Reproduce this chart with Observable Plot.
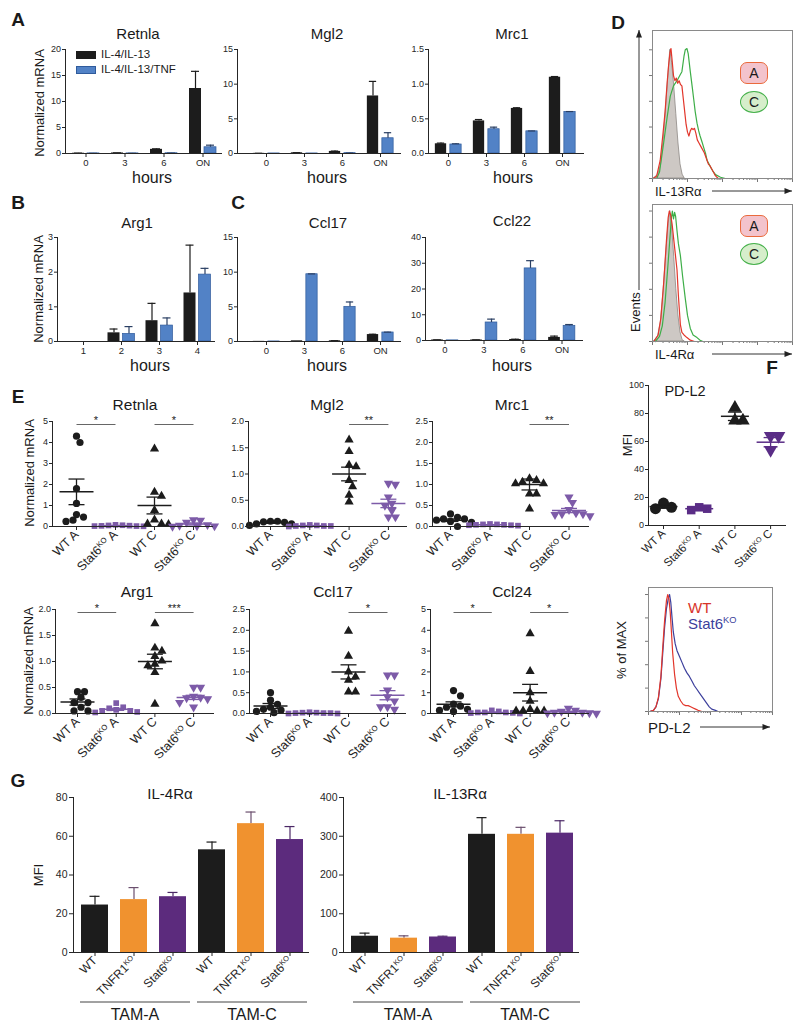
<!DOCTYPE html>
<html>
<head>
<meta charset="utf-8">
<script src="https://cdn.jsdelivr.net/npm/d3@7"></script>
<script src="https://cdn.jsdelivr.net/npm/@observablehq/plot@0.6"></script>
<style>
  html, body { margin: 0; padding: 0; background: #fff; }
  #fig { position: relative; width: 800px; height: 1028px; overflow: hidden; background: #fff;
         font-family: "Liberation Sans", Arial, Helvetica, sans-serif; color: #1a1a1a; }
  .t { position: absolute; white-space: nowrap; line-height: 1; }
  .t sup { font-size: 0.62em; vertical-align: 0.55em; line-height: 0; }
</style>
</head>
<body>
<div id="fig"></div>
<script>
// ====================== DATA ======================
// --- Panels A-C: qPCR time course, two treatments ---
const treatmentNames = ["IL-4/IL-13", "IL-4/IL-13/TNF"];
const hourLabels = ["0", "3", "6", "ON"];
const arg1HourLabels = ["1", "2", "3", "4"];

const retnlaIL4 = [0.05, 0.1, 0.8, 12.5];
const retnlaIL4Err = [0.02, 0.02, 0.1, 3.3];
const retnlaTNF = [0.02, 0.02, 0.05, 1.2];
const retnlaTNFErr = [0.01, 0.01, 0.02, 0.4];

const mgl2IL4 = [0.02, 0.1, 0.3, 8.3];
const mgl2IL4Err = [0.01, 0.02, 0.05, 2.1];
const mgl2TNF = [0.01, 0.01, 0.05, 2.2];
const mgl2TNFErr = [0, 0, 0.01, 0.8];

const mrc1IL4 = [0.14, 0.47, 0.65, 1.10];
const mrc1IL4Err = [0.01, 0.02, 0.01, 0.01];
const mrc1TNF = [0.13, 0.35, 0.32, 0.60];
const mrc1TNFErr = [0.01, 0.03, 0.005, 0.005];

const arg1IL4 = [0, 0.25, 0.6, 1.4];
const arg1IL4Err = [0, 0.11, 0.5, 1.38];
const arg1TNF = [0, 0.22, 0.46, 1.93];
const arg1TNFErr = [0, 0.21, 0.22, 0.18];

const ccl17IL4 = [0.02, 0.1, 0.1, 1.0];
const ccl17IL4Err = [0, 0, 0.02, 0.05];
const ccl17TNF = [0.01, 9.7, 5.0, 1.3];
const ccl17TNFErr = [0, 0.05, 0.7, 0.05];

const ccl22IL4 = [0.2, 0.2, 0.4, 1.2];
const ccl22IL4Err = [0.05, 0.05, 0.1, 0.5];
const ccl22TNF = [0.05, 7.0, 28.0, 5.7];
const ccl22TNFErr = [0, 1.3, 3.0, 0.5];

// --- Panel E: individual mice (WT A, Stat6KO A, WT C, Stat6KO C) ---
const eGroupNames = ["WT A", "Stat6KO A", "WT C", "Stat6KO C"];
const eRetnla = [[4.3, 4.0, 1.8, 1.1, 0.57, 0.45, 0.3, 0.24], [0.08, 0.06, 0.05, 0.04, 0.03, 0.02, 0.02, 0.01], [3.7, 1.64, 1.45, 0.77, 0.32, 0.13, 0.13, 0.1], [0.32, 0.29, 0.2, 0.08, 0.05, 0.03, 0.02, 0.0]];
const eRetnlaMean = [1.65, 0.04, 1.0, 0.12];
const eRetnlaSem = [0.61, 0.01, 0.4, 0.05];
const eMgl2 = [[0.1, 0.1, 0.09, 0.08, 0.05, 0.05, 0.02], [0.03, 0.02, 0.02, 0.01, 0.01, 0.01, 0.0], [1.65, 1.43, 1.17, 1.14, 0.88, 0.76, 0.6, 0.47], [0.82, 0.8, 0.56, 0.44, 0.4, 0.3, 0.18, 0.18]];
const eMgl2Mean = [0.07, 0.015, 1.0, 0.44];
const eMgl2Sem = [0.01, 0.004, 0.13, 0.08];
const eMrc1 = [[0.3, 0.22, 0.18, 0.18, 0.15, 0.12, 0.1, 0.0], [0.06, 0.05, 0.05, 0.04, 0.04, 0.03, 0.03, 0.02], [1.14, 1.1, 1.06, 1.02, 1.02, 0.78, 0.78, 0.42], [0.7, 0.57, 0.4, 0.32, 0.3, 0.3, 0.28, 0.25]];
const eMrc1Mean = [0.15, 0.04, 1.0, 0.38];
const eMrc1Sem = [0.03, 0.005, 0.13, 0.05];
const eArg1 = [[0.42, 0.42, 0.31, 0.21, 0.21, 0.12, 0.05, 0.05], [0.2, 0.12, 0.1, 0.07, 0.05, 0.05, 0.03, 0.02], [1.73, 1.26, 1.2, 1.1, 1.01, 0.95, 0.92, 0.79, 0.18], [0.5, 0.5, 0.33, 0.31, 0.3, 0.28, 0.21, 0.12]];
const eArg1Mean = [0.22, 0.08, 1.0, 0.31];
const eArg1Sem = [0.06, 0.02, 0.14, 0.04];
const eCcl17 = [[0.5, 0.32, 0.22, 0.15, 0.1, 0.08, 0.05, 0.02], [0.03, 0.02, 0.02, 0.01, 0.01, 0.0, 0.0, 0.01], [1.98, 1.38, 1.0, 0.88, 0.8, 0.52, 0.52], [0.92, 0.92, 0.56, 0.4, 0.3, 0.16, 0.16, 0.1]];
const eCcl17Mean = [0.18, 0.01, 1.0, 0.44];
const eCcl17Sem = [0.06, 0.005, 0.17, 0.11];
const eCcl24 = [[1.1, 0.85, 0.45, 0.35, 0.3, 0.2, 0.15, 0.1], [0.15, 0.1, 0.05, 0.05, 0.03, 0.02, 0.0, 0.05], [3.84, 2.03, 1.0, 0.6, 0.2, 0.13, 0.13, 0.13, 0.13], [0.25, 0.15, 0.1, 0.05, 0.05, 0.03, 0.02, 0.0]];
const eCcl24Mean = [0.44, 0.05, 1.0, 0.08];
const eCcl24Sem = [0.12, 0.02, 0.4, 0.03];
// significance brackets: [from group, to group, label]
const sigRetnla = [[0, 1, "*"], [2, 3, "*"]];
const sigMgl2 = [[2, 3, "**"]];
const sigMrc1 = [[2, 3, "**"]];
const sigArg1 = [[0, 1, "*"], [2, 3, "***"]];
const sigCcl17 = [[2, 3, "*"]];
const sigCcl24 = [[0, 1, "*"], [2, 3, "*"]];

// --- Panel F: PD-L2 MFI ---
const fPDL2 = [[16, 13, 12], [13, 12, 11], [84, 75, 75], [64, 64, 54]];
const fPDL2Mean = [13.5, 12, 78, 59.5];
const fPDL2Sem = [1.2, 0.6, 3, 3.3];

// --- Panel G: MFI bars ---
const gGenotypes = ["WT", "TNFR1KO", "Stat6KO"];
const gTams = ["TAM-A", "TAM-C"];
const il4raMFI = [24.5, 27.3, 28.8, 53, 66.5, 58.3];
const il4raErr = [4.5, 6.2, 2.2, 4, 6, 6.7];
const il13raMFI = [42, 37, 40, 305, 305, 308];
const il13raErr = [8, 6, 2, 43, 18, 32];

// --- Flow histograms: [position along log axis (% of axis), events (% of max)] ---
const il13raIso = [[1,0],[4,3],[6,10],[8,30],[10,60],[11.5,82],[12.7,100],[14,90],[15.5,72],[17,50],[18.5,28],[20,11],[21.5,3],[23,0]];
const il13raA = [[0.5,0],[3,2],[5.5,14],[7.5,35],[9,52],[10.5,75],[11.5,88],[12.5,98],[13.2,101],[14,92],[15,80],[16,76],[17,78],[18,74],[19,76],[20,73],[21,72],[22,62],[23,52],[24,42],[25,36],[26,33],[27,37],[28,39],[29,38],[30,39],[31,35],[32,30],[33,28],[35,24],[37,20],[39,14],[40,11],[41,10],[42,8],[43.5,5],[45,2],[47,0]];
const il13raC = [[3,0],[5,5],[8,28],[10.5,48],[12.7,64],[15,72],[17.5,76],[19.5,80],[21,83],[22.5,95],[23.4,100],[24.6,101],[25.5,97],[27,83],[28.5,70],[29.4,62],[30.5,52],[31.8,43],[33,37],[34,33],[35.5,28],[36.6,24],[38,19],[39,14],[40.5,11],[41.4,9],[43,6],[45,3],[48.6,1],[52,0]];
const il4raIso = [[1,0],[4,4],[6,15],[8,40],[10,70],[11.5,90],[12.7,100],[14,88],[15.5,65],[17,40],[18.5,20],[20,7],[21.5,1],[23,0]];
const il4raA = [[1,0],[4,5],[6,18],[8,45],[10,78],[11.2,95],[12,100],[13,97],[14,90],[15.5,75],[17,60],[17.5,55],[18.5,35],[19.9,13],[21,7],[22.5,5],[24.6,3],[27,1],[30,0]];
const il4raC = [[2,0],[5,4],[7,12],[9,30],[11,58],[12.5,80],[13.5,95],[14.2,100],[15,94],[15.8,99],[16.5,96],[17.5,85],[18.5,75],[19.9,66],[21.5,50],[23.4,33],[25,20],[27,10],[29,5],[31.8,3],[34,1],[36,0]];
const pdl2WT = [[1,0],[4,1],[6,4],[8,12],[10,30],[11.5,55],[13,78],[14.5,95],[15.5,100],[16.5,96],[17.5,85],[18.5,68],[19.5,50],[21,32],[22.5,20],[24,13],[26,9],[28,6],[30,5],[32,5],[34,4],[36,3],[38,2],[40,1],[43,0]];
const pdl2Stat6 = [[1,0],[4,1],[6,4],[8,11],[10,28],[11.5,50],[13,72],[14.5,88],[16,97],[17,100],[18,93],[19,80],[20,68],[21.5,58],[23,52],[25,47],[27,42],[29,37],[31,33],[33,30],[35,26],[37,22],[39,19],[41,16],[43,13],[45,10],[47,7],[49,4],[51,2],[54,1],[56,0]];

// ====================== STYLE ======================
const NS = "http://www.w3.org/2000/svg";
const FONT = '"Liberation Sans", Arial, Helvetica, sans-serif';
const COL = {
  black: "#1c1c1c", blue: "#5282c6", blueEdge: "#2f5b9c", blueErr: "#2a3f63",
  purpleE: "#7d5ba8", purpleF: "#5a2d86", orange: "#f0922f", purpleG: "#5c2b7d",
  red: "#e2362b", green: "#3eae48", navy: "#3c3f9c", gray: "#cdc8c4", grayEdge: "#8d8884", axis: "#262626"
};
const fig = document.getElementById("fig");

function baseOpts(w, h, m) {
  return {width: w, height: h, marginTop: m[0], marginRight: m[1], marginBottom: m[2], marginLeft: m[3],
    style: {fontFamily: FONT, fontSize: "9px", color: COL.axis, background: "none", overflow: "visible"}};
}
function place(svg, left, top) {
  svg.style.position = "absolute"; svg.style.left = left + "px"; svg.style.top = top + "px";
  fig.appendChild(svg);
}
function label(txt, x, y, o = {}) {
  const {size = 15, weight = "normal", anchor = "middle", rotate = 0, color = "#1a1a1a", html = false} = o;
  const d = document.createElement("div");
  d.className = "t";
  const tx = anchor === "middle" ? "-50%" : anchor === "end" ? "-100%" : "0";
  d.style.left = x + "px"; d.style.top = y + "px";
  d.style.fontSize = size + "px"; d.style.fontWeight = weight; d.style.color = color;
  d.style.transform = `translate(${tx}, -50%) rotate(${rotate}deg)`;
  if (html) d.innerHTML = txt; else d.textContent = txt;
  fig.appendChild(d);
  return d;
}
function supKO(svg) {
  svg.querySelectorAll("text").forEach(t => {
    const s = t.textContent, i = s.indexOf("KO");
    if (i < 0) return;
    while (t.firstChild) t.removeChild(t.firstChild);
    const mk = (txt, attrs) => { const e = document.createElementNS(NS, "tspan"); e.textContent = txt; for (const k in attrs) e.setAttribute(k, attrs[k]); t.appendChild(e); };
    mk(s.slice(0, i), {});
    mk("KO", {"font-size": "0.62em", dy: "-0.55em"});
    if (s.slice(i + 2)) mk(s.slice(i + 2), {dy: "0.341em"});
  });
}

// ---------- grouped bar panel (A, B, C) ----------
function barPanel(p, L) {
  const m = [8, 8, 24, 34];
  const fw = L.x1 - L.x0, fh = L.y1 - L.y0, n = p.cats.length, bw = L.step, h = bw / 2;
  const r0 = m[3] + (L.first - h - L.x0);
  const rows = p.cats.map((c, i) => ({c, a: p.a[i], ae: p.ae[i], b: p.b[i], be: p.be[i]}));
  const ea = rows.filter(d => d.ae > 0), eb = rows.filter(d => d.be > 0);
  const svg = Plot.plot({
    ...baseOpts(m[3] + fw + m[1], m[0] + fh + m[2], m),
    x: {type: "band", domain: p.cats, range: [r0, r0 + n * bw], padding: 0},
    y: {domain: [0, p.yMax]},
    marks: [
      Plot.barY(rows, {x: "c", y: "a", fill: COL.black, insetLeft: h - 13.5, insetRight: h + 1.5}),
      Plot.barY(rows, {x: "c", y: "b", fill: COL.blue, stroke: COL.blueEdge, strokeWidth: 0.7, insetLeft: h + 1.5, insetRight: h - 13.5}),
      Plot.ruleX(ea, {x: "c", y1: "a", y2: d => d.a + d.ae, dx: -7.5, stroke: COL.black, strokeWidth: 1.2}),
      Plot.tickY(ea, {x: "c", y: d => d.a + d.ae, stroke: COL.black, strokeWidth: 1.2, insetLeft: h - 11.5, insetRight: h + 3.5}),
      Plot.ruleX(eb, {x: "c", y1: "b", y2: d => d.b + d.be, dx: 7.5, stroke: COL.blueErr, strokeWidth: 1.2}),
      Plot.tickY(eb, {x: "c", y: d => d.b + d.be, stroke: COL.blueErr, strokeWidth: 1.2, insetLeft: h + 3.5, insetRight: h - 11.5}),
      Plot.axisY({ticks: p.yTicks, tickFormat: p.fmt, tickSize: 3, tickPadding: 1.5, fontSize: 9, label: null}),
      Plot.axisX({tickSize: 4, tickPadding: 2, fontSize: 9.5, label: null}),
      Plot.frame({anchor: "left", stroke: COL.axis}),
      Plot.frame({anchor: "bottom", stroke: COL.axis})
    ]
  });
  place(svg, L.x0 - m[3], L.y0 - m[0]);
}

// ---------- dot plot with mean ± SEM (E, F) ----------
function dotPanel(p, L) {
  const m = [12, 8, 70, 30];
  const fw = L.x1 - L.x0, fh = L.y1 - L.y0, n = p.values.length, unit = L.step;
  const r0 = m[3] + (L.first - unit / 2 - L.x0);
  const pts = [];
  p.values.forEach((vals, gi) => {
    const placed = [];
    [...vals].sort((a, b) => b - a).forEach(v => {
      const py = v / p.yMax * fh;
      let off = 0;
      for (let k = 0; k < 80; k++) {
        const cand = (k % 2 ? 1 : -1) * Math.ceil(k / 2) * L.jit;
        if (placed.every(q => Math.hypot(q.ox - cand, q.py - py) >= L.gap)) { off = cand; break; }
      }
      placed.push({ox: off, py});
      pts.push({g: gi, v, x: gi + off / unit});
    });
  });
  const stats = p.mean.map((mm, i) => ({g: i, m: mm, lo: mm - p.sem[i], hi: mm + p.sem[i], c: p.colors[i]}));
  const mw = L.meanHalf / unit, cw = L.capHalf / unit;
  const sy = p.yMax * (1 - 3 / fh);
  const sig = (p.sig || []).map(([a, b, t]) => ({a, b, t}));
  const svg = Plot.plot({
    ...baseOpts(m[3] + fw + m[1], m[0] + fh + m[2], m),
    x: {domain: [-0.5, n - 0.5], range: [r0, r0 + n * unit]},
    y: {domain: [0, p.yMax]},
    color: {type: "identity"},
    marks: [
      ...p.values.map((_, gi) => Plot.dot(pts.filter(d => d.g === gi), {x: "x", y: "v", symbol: p.symbols[gi], r: p.r[gi], rotate: p.rot[gi], fill: p.colors[gi], stroke: "none"})),
      Plot.link(stats, {x1: d => d.g - mw, x2: d => d.g + mw, y1: "m", y2: "m", stroke: "c", strokeWidth: 1.5}),
      Plot.link(stats, {x1: "g", x2: "g", y1: "lo", y2: "hi", stroke: "c", strokeWidth: 1.3}),
      Plot.link(stats, {x1: d => d.g - cw, x2: d => d.g + cw, y1: "hi", y2: "hi", stroke: "c", strokeWidth: 1.3}),
      Plot.link(stats, {x1: d => d.g - cw, x2: d => d.g + cw, y1: "lo", y2: "lo", stroke: "c", strokeWidth: 1.3}),
      Plot.link(sig, {x1: "a", x2: "b", y1: () => sy, y2: () => sy, stroke: "#555555", strokeWidth: 0.9}),
      Plot.text(sig, {x: d => (d.a + d.b) / 2, y: () => sy, text: "t", dy: -1, lineAnchor: "bottom", fontSize: 11, fill: "#222222"}),
      Plot.axisY({ticks: p.yTicks, tickFormat: p.fmt, tickSize: 3, tickPadding: 1.5, fontSize: 9, label: null}),
      Plot.axisX({ticks: d3.range(n), tickFormat: i => p.names[i], tickRotate: -45, tickSize: 4, tickPadding: 2, fontSize: L.xFont, label: null}),
      Plot.frame({anchor: "left", stroke: COL.axis}),
      Plot.frame({anchor: "bottom", stroke: COL.axis})
    ]
  });
  supKO(svg);
  place(svg, L.x0 - m[3], L.y0 - m[0]);
}

// ---------- single-series bar panel (G) ----------
function gPanel(p, L) {
  const m = [8, 8, 70, 36];
  const fw = L.x1 - L.x0, fh = L.y1 - L.y0, bw = L.step;
  const rows = p.values.map((v, i) => ({k: i, v, e: p.errs[i], name: p.names[i % p.names.length], fill: p.fills[i % p.fills.length], ec: p.errCols[i % p.errCols.length]}));
  const r0 = m[3] + (L.first - bw / 2 - L.x0);
  const pad = (bw - 27) / 2;
  const svg = Plot.plot({
    ...baseOpts(m[3] + fw + m[1], m[0] + fh + m[2], m),
    x: {type: "band", domain: rows.map(d => d.k), range: [r0, r0 + rows.length * bw], padding: 0},
    y: {domain: [0, p.yMax]},
    color: {type: "identity"},
    marks: [
      Plot.ruleX(rows, {x: "k", y1: "v", y2: d => d.v + d.e, stroke: "ec", strokeWidth: 1.2}),
      Plot.tickY(rows, {x: "k", y: d => d.v + d.e, stroke: "ec", strokeWidth: 1.2, insetLeft: bw / 2 - 5, insetRight: bw / 2 - 5}),
      Plot.barY(rows, {x: "k", y: "v", fill: "fill", insetLeft: pad, insetRight: pad}),
      Plot.axisY({ticks: p.yTicks, tickSize: 4, tickPadding: 2, fontSize: 10.5, label: null}),
      Plot.axisX({tickFormat: k => rows[k].name, tickRotate: -45, tickSize: 4, tickPadding: 2, fontSize: 12, label: null}),
      Plot.frame({anchor: "left", stroke: COL.axis}),
      Plot.frame({anchor: "bottom", stroke: COL.axis})
    ]
  });
  supKO(svg);
  place(svg, L.x0 - m[3], L.y0 - m[0]);
}

// ---------- flow histogram (D, F) ----------
const logMajor = [0, 25, 50, 75, 100];
const logMinor = [];
for (let k = 0; k < 4; k++) for (let mm = 2; mm <= 9; mm++) logMinor.push(25 * (k + Math.log10(mm)));
function histPanel(curves, L) {
  const m = [1, 1, 6, 6];
  const fw = L.x1 - L.x0, fh = L.y1 - L.y0;
  const svg = Plot.plot({
    ...baseOpts(m[3] + fw + m[1], m[0] + fh + m[2], m),
    x: {domain: [0, 100]},
    y: {domain: [0, L.yMax]},
    marks: [
      ...curves.map(c => c.fill
        ? Plot.areaY(c.pts, {x: d => d[0], y: d => d[1], fill: c.fill, stroke: c.stroke, strokeWidth: 0.8})
        : Plot.line(c.pts, {x: d => d[0], y: d => d[1], stroke: c.stroke, strokeWidth: 1.2})),
      Plot.axisY({ticks: d3.range(0, L.yMax, 20), tickSize: 3, tickFormat: () => "", label: null, stroke: "#777"}),
      Plot.axisX({ticks: logMajor, tickSize: 4, tickFormat: () => "", label: null, stroke: "#777"}),
      Plot.axisX({ticks: logMinor, tickSize: 2, tickFormat: () => "", label: null, stroke: "#777"}),
      Plot.frame({stroke: "#8a8a8a"})
    ]
  });
  place(svg, L.x0 - m[3], L.y0 - m[0]);
}

// ---------- overlay for arrows / group lines ----------
const overlay = document.createElementNS(NS, "svg");
overlay.setAttribute("width", 800); overlay.setAttribute("height", 1028);
overlay.style.cssText = "position:absolute;left:0;top:0;pointer-events:none;overflow:visible";
overlay.innerHTML = '<defs><marker id="ah" viewBox="0 0 10 8" refX="10" refY="4" markerWidth="9" markerHeight="6" markerUnits="userSpaceOnUse" orient="auto"><path d="M0,0 L10,4 L0,8 z" fill="#222"/></marker></defs>';
function seg(x1, y1, x2, y2, o = {}) {
  const l = document.createElementNS(NS, "line");
  l.setAttribute("x1", x1); l.setAttribute("y1", y1); l.setAttribute("x2", x2); l.setAttribute("y2", y2);
  l.setAttribute("stroke", o.stroke || "#333"); l.setAttribute("stroke-width", o.width || 1);
  if (o.arrow) l.setAttribute("marker-end", "url(#ah)");
  overlay.appendChild(l);
}

// ====================== PANELS A–C ======================
const fmtInt = d3.format("d"), fmt1 = d3.format(".1f");
label("A", 18, 19, {size: 19, weight: "bold"});
label("B", 18, 202, {size: 19, weight: "bold"});
label("C", 238, 202, {size: 19, weight: "bold"});

barPanel({cats: hourLabels, a: retnlaIL4, ae: retnlaIL4Err, b: retnlaTNF, be: retnlaTNFErr, yMax: 20, yTicks: [0, 5, 10, 15, 20], fmt: fmtInt},
  {x0: 65, x1: 221, y0: 49, y1: 153, first: 85, step: 39});
barPanel({cats: hourLabels, a: mgl2IL4, ae: mgl2IL4Err, b: mgl2TNF, be: mgl2TNFErr, yMax: 15, yTicks: [0, 5, 10, 15], fmt: fmtInt},
  {x0: 237, x1: 400, y0: 49, y1: 153, first: 265, step: 38.7});
barPanel({cats: hourLabels, a: mrc1IL4, ae: mrc1IL4Err, b: mrc1TNF, be: mrc1TNFErr, yMax: 1.5, yTicks: [0, 0.5, 1, 1.5], fmt: fmt1},
  {x0: 428, x1: 583, y0: 49, y1: 153, first: 447, step: 38.7});
barPanel({cats: arg1HourLabels, a: arg1IL4, ae: arg1IL4Err, b: arg1TNF, be: arg1TNFErr, yMax: 3, yTicks: [0, 1, 2, 3], fmt: fmtInt},
  {x0: 57, x1: 214, y0: 237, y1: 341, first: 83, step: 38});
barPanel({cats: hourLabels, a: ccl17IL4, ae: ccl17IL4Err, b: ccl17TNF, be: ccl17TNFErr, yMax: 15, yTicks: [0, 5, 10, 15], fmt: fmtInt},
  {x0: 237, x1: 400, y0: 237, y1: 341, first: 265, step: 38.7});
barPanel({cats: hourLabels, a: ccl22IL4, ae: ccl22IL4Err, b: ccl22TNF, be: ccl22TNFErr, yMax: 40, yTicks: [0, 10, 20, 30, 40], fmt: fmtInt},
  {x0: 425, x1: 582, y0: 237, y1: 340, first: 444, step: 39.3});

[["Retnla", 138, 33], ["Mgl2", 327, 33], ["Mrc1", 512, 33], ["Arg1", 137, 222], ["Ccl17", 328, 222], ["Ccl22", 512, 220]]
  .forEach(([t, x, y]) => label(t, x, y, {size: 15}));
[[152, 178], [327, 178], [513, 178], [150, 366], [327, 366], [512, 366]].forEach(([x, y]) => label("hours", x, y, {size: 16}));
label("Normalized mRNA", 39, 103, {size: 13, rotate: -90});
label("Normalized mRNA", 38, 289, {size: 13, rotate: -90});
// legend
[[treatmentNames[0], COL.black, COL.black, 55], [treatmentNames[1], COL.blue, COL.blueEdge, 70]].forEach(([t, f, s, y]) => {
  const sw = document.createElement("div");
  sw.style.cssText = `position:absolute;left:76px;top:${y - 4}px;width:20px;height:8px;background:${f};border:0.7px solid ${s};box-sizing:border-box`;
  fig.appendChild(sw);
  label(t, 101, y, {size: 11.5, anchor: "start"});
});

// ====================== PANEL D ======================
label("D", 618, 22, {size: 19, weight: "bold"});
const dBox1 = {x0: 652, x1: 792, y0: 30, y1: 178, yMax: 115};
const dBox2 = {x0: 652, x1: 792, y0: 204, y1: 341, yMax: 105};
histPanel([{pts: il13raIso, fill: COL.gray, stroke: COL.grayEdge}, {pts: il13raC, stroke: COL.green}, {pts: il13raA, stroke: COL.red}], dBox1);
histPanel([{pts: il4raIso, fill: COL.gray, stroke: COL.grayEdge}, {pts: il4raC, stroke: COL.green}, {pts: il4raA, stroke: COL.red}], dBox2);
function chip(txt, left, top, round) {
  const d = document.createElement("div");
  d.className = "t";
  d.style.cssText += `left:${left}px;top:${top}px;width:28px;height:22px;box-sizing:border-box;display:flex;align-items:center;justify-content:center;font-size:14px;` +
    (round ? "border:1.5px solid #45b04b;background:#d6eecb;border-radius:50%;" : "border:1.5px solid #ea6a3c;background:#f3c3cc;border-radius:7px;");
  d.textContent = txt;
  fig.appendChild(d);
}
chip("A", dBox1.x0 + 88, dBox1.y0 + 32, false);
chip("C", dBox1.x0 + 88, dBox1.y0 + 61, true);
chip("A", dBox2.x0 + 88, dBox2.y0 + 11, false);
chip("C", dBox2.x0 + 88, dBox2.y0 + 39, true);
label("IL-13R&alpha;", 655, 191, {size: 13, anchor: "start", html: true});
seg(712, 191, 792, 191, {arrow: true});
label("IL-4R&alpha;", 655, 354, {size: 13, anchor: "start", html: true});
seg(712, 354, 792, 354, {arrow: true});
label("Events", 635, 312, {size: 13, rotate: -90});
seg(639, 290, 639, 30, {arrow: true});

// ====================== PANEL E ======================
label("E", 18, 396, {size: 19, weight: "bold"});
const eSym = {symbols: ["circle", "square", "triangle", "triangle"], rot: [0, 0, 0, 180], r: [3.6, 3.2, 3.4, 3.4], colors: [COL.black, COL.purpleE, COL.black, COL.purpleE], names: eGroupNames};
const eL = {jit: 3.5, gap: 6.4, meanHalf: 17, capHalf: 8, xFont: 12.5};
dotPanel({...eSym, values: eRetnla, mean: eRetnlaMean, sem: eRetnlaSem, yMax: 5, yTicks: [0, 1, 2, 3, 4, 5], fmt: fmtInt, sig: sigRetnla},
  {...eL, x0: 52, x1: 212, y0: 421, y1: 526, first: 76, step: 39});
dotPanel({...eSym, values: eMgl2, mean: eMgl2Mean, sem: eMgl2Sem, yMax: 2, yTicks: [0, 0.5, 1, 1.5, 2], fmt: fmt1, sig: sigMgl2},
  {...eL, x0: 248, x1: 406, y0: 421, y1: 526, first: 270, step: 39.3});
dotPanel({...eSym, values: eMrc1, mean: eMrc1Mean, sem: eMrc1Sem, yMax: 2.5, yTicks: [0, 0.5, 1, 1.5, 2, 2.5], fmt: fmt1, sig: sigMrc1},
  {...eL, x0: 432, x1: 588, y0: 421, y1: 526, first: 450, step: 39.5});
dotPanel({...eSym, values: eArg1, mean: eArg1Mean, sem: eArg1Sem, yMax: 2, yTicks: [0, 0.5, 1, 1.5, 2], fmt: fmt1, sig: sigArg1},
  {...eL, x0: 55, x1: 213, y0: 609, y1: 713, first: 77, step: 38.7});
dotPanel({...eSym, values: eCcl17, mean: eCcl17Mean, sem: eCcl17Sem, yMax: 2.5, yTicks: [0, 0.5, 1, 1.5, 2, 2.5], fmt: fmt1, sig: sigCcl17},
  {...eL, x0: 249, x1: 405, y0: 609, y1: 713, first: 270, step: 39});
dotPanel({...eSym, values: eCcl24, mean: eCcl24Mean, sem: eCcl24Sem, yMax: 5, yTicks: [0, 1, 2, 3, 4, 5], fmt: fmtInt, sig: sigCcl24},
  {...eL, x0: 430, x1: 588, y0: 609, y1: 713, first: 453, step: 38.3});
[["Retnla", 135, 405], ["Mgl2", 327, 405], ["Mrc1", 512, 405], ["Arg1", 137, 592], ["Ccl17", 333, 592], ["Ccl24", 512, 592]]
  .forEach(([t, x, y]) => label(t, x, y, {size: 15.5}));
label("Normalized mRNA", 29, 473, {size: 13, rotate: -90});
label("Normalized mRNA", 28, 661, {size: 13, rotate: -90});

// ====================== PANEL F ======================
label("F", 772, 367, {size: 19, weight: "bold"});
dotPanel({symbols: ["circle", "square", "triangle", "triangle"], rot: [0, 0, 0, 180], r: [5.5, 4.8, 5, 5], colors: [COL.black, COL.purpleF, COL.black, COL.purpleF], names: eGroupNames,
  values: fPDL2, mean: fPDL2Mean, sem: fPDL2Sem, yMax: 100, yTicks: [0, 20, 40, 60, 80, 100], fmt: fmtInt},
  {jit: 4, gap: 7, meanHalf: 14, capHalf: 7, xFont: 11.5, x0: 648, x1: 785, y0: 385, y1: 525, first: 663, step: 35.7});
label("PD-L2", 685, 391, {size: 14.5});
label("MFI", 627, 445, {size: 13, rotate: -90});
const fBox = {x0: 648, x1: 772, y0: 587, y1: 711, yMax: 106};
histPanel([{pts: pdl2Stat6, stroke: COL.navy}, {pts: pdl2WT, stroke: COL.red}], fBox);
label("WT", 688, 607, {size: 15, anchor: "start", color: "#d8342a"});
label("Stat6<sup>KO</sup>", 688, 623, {size: 15, anchor: "start", color: COL.navy, html: true});
label("PD-L2", 648, 727, {size: 15, anchor: "start"});
seg(700, 727, 770, 727, {arrow: true});
label("% of MAX", 621, 650, {size: 13, rotate: -90});

// ====================== PANEL G ======================
label("G", 18, 780, {size: 19, weight: "bold"});
const gFills = [COL.black, COL.orange, COL.purpleG];
const gErrCols = [COL.black, "#6b4f6e", "#4b2866"];
gPanel({values: il4raMFI, errs: il4raErr, names: gGenotypes, fills: gFills, errCols: gErrCols, yMax: 80, yTicks: [0, 20, 40, 60, 80]},
  {x0: 73, x1: 308, y0: 797, y1: 952, first: 94, step: 39});
gPanel({values: il13raMFI, errs: il13raErr, names: gGenotypes, fills: gFills, errCols: gErrCols, yMax: 400, yTicks: [0, 100, 200, 300, 400]},
  {x0: 343, x1: 578, y0: 797, y1: 952, first: 364, step: 39});
label("IL-4R&alpha;", 170, 793, {size: 15, html: true});
label("IL-13R&alpha;", 460, 793, {size: 15, html: true});
label("MFI", 38, 875, {size: 13, rotate: -90});
[[80, 190, gTams[0]], [197, 307, gTams[1]], [353, 463, gTams[0]], [470, 580, gTams[1]]].forEach(([a, b, t]) => {
  seg(a, 1002, b, 1002, {stroke: "#444"});
  label(t, (a + b) / 2, 1015, {size: 16});
});

fig.appendChild(overlay);
</script>
</body>
</html>
